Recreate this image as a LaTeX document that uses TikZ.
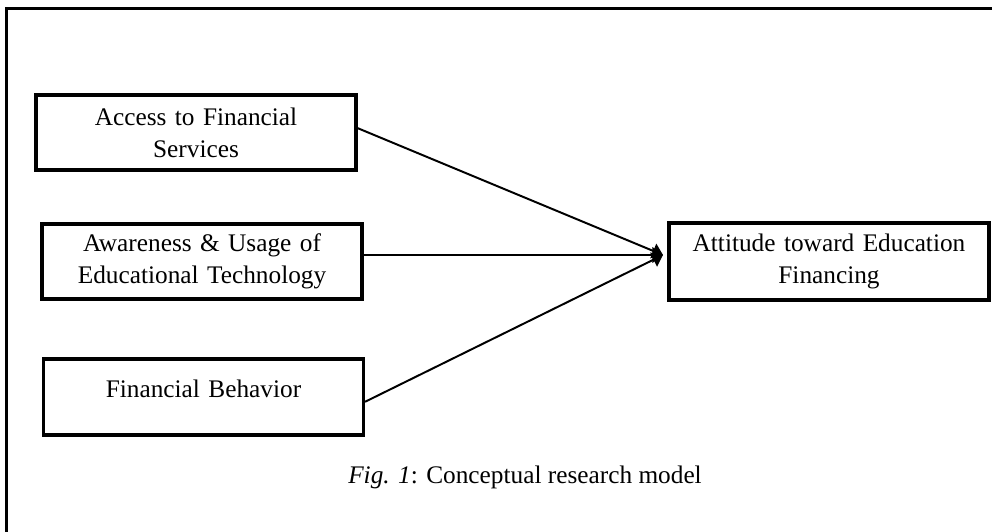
\documentclass[tikz,border=0pt]{standalone}
\usepackage{fontspec}
\setmainfont{Liberation Serif}
\usetikzlibrary{arrows.meta}

\tikzset{
  varbox/.style={draw, line width=2.2pt, minimum width=8cm, minimum height=1.875cm,
    text width=7.6cm, align=center, inner sep=0pt,
    font=\fontsize{18}{22.75}\selectfont},
  link/.style={line width=1.4pt, -{Triangle[length=7.5pt,width=11pt]}}
}

\begin{document}
\begin{tikzpicture}
\useasboundingbox (0,0) rectangle (24.8,13.275);
\clip (0,0) rectangle (24.8,13.275);

% Outer frame
\draw[line width=2.2pt] (0.1625,-1) rectangle (26,13.0625);

% Draw boxes
\node[varbox] (access) at (4.9,9.9625) {Access to Financial\\Services};
\node[varbox] (aware) at (5.05,6.7375) {Awareness \& Usage of\\Educational Technology};
\node[varbox, minimum height=1.9cm, text height=13pt, text depth=11.6pt] (behav) at (5.0875,3.35) {Financial Behavior};
\node[varbox, minimum height=1.925cm] (attit) at (20.725,6.7375) {Attitude toward Education\\Financing};

% Draw arrows
\coordinate (meet) at (16.575,6.9);
\draw[link] ([yshift=0.11cm]access.east) -- (meet);
\draw[link] (aware.east |- meet) -- (meet);
\draw[link] ([yshift=-0.12cm]behav.east) -- (meet);

% Caption
\node[font=\fontsize{18}{22.75}\selectfont] (caption) at (13.125,1.35) {\textit{Fig. 1}: Conceptual research model};
\end{tikzpicture}
\end{document}
